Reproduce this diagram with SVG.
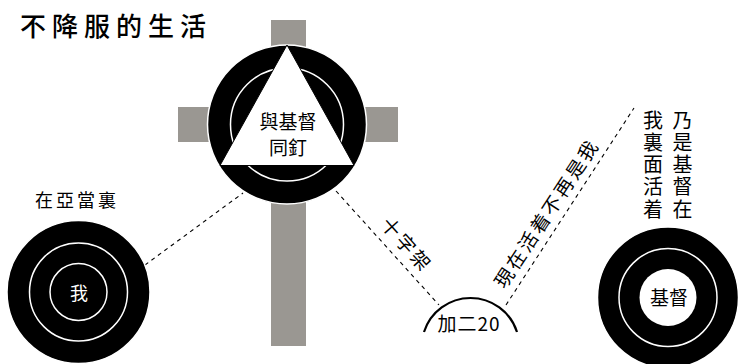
<svg xmlns="http://www.w3.org/2000/svg" width="738" height="364" viewBox="0 0 738 364">
<style>
text{font-family:"Noto Sans CJK TC","Noto Sans CJK SC",sans-serif;}
.t{font-size:19px;fill:#000;}
.w{fill:#fff;}
.outer{fill:#000;stroke:#fff;stroke-width:1.5;}
.ring{fill:none;stroke:#fff;stroke-width:1.5;}
.dash{fill:none;stroke:#000;stroke-width:1.1;stroke-dasharray:4,4;}
.v{font-size:20px;}
</style>
<rect width="738" height="364" fill="#fff"/>
<text id="title" x="20" y="36" style="font-size:26px;font-weight:500;letter-spacing:6px">不降服的生活</text>
<g id="connectors">
<line class="dash" x1="145" y1="265" x2="243" y2="193"/>
<line class="dash" x1="336" y1="191" x2="439" y2="305"/>
<line class="dash" x1="506" y1="305" x2="634" y2="108"/>
<text class="t" transform="translate(406.7,245) rotate(48.3)" text-anchor="middle" dy="7" style="letter-spacing:3px">十字架</text>
<text class="t" transform="translate(546.7,213.3) rotate(-56.7)" text-anchor="middle" dy="7" style="letter-spacing:2.7px">現在活着不再是我</text>
</g>
<g id="cross">
<rect x="271" y="20" width="35" height="326" fill="#9a9792"/>
<rect x="178" y="107" width="220" height="35" fill="#9a9792"/>
<circle class="outer" cx="287" cy="124.5" r="79.5"/>
<circle class="ring" cx="287" cy="124.5" r="56.5"/>
<polygon points="287,45 220,165.5 354,165.5" fill="#fff" stroke="#000" stroke-width="1"/>
<text class="t" x="288" y="129" text-anchor="middle">與基督</text>
<text class="t" x="288" y="155" text-anchor="middle">同釘</text>
</g>
<g id="adam">
<text class="t" x="77" y="207" text-anchor="middle" style="font-size:18px;letter-spacing:3px">在亞當裏</text>
<circle class="outer" cx="78.5" cy="292" r="71.5"/>
<circle class="ring" cx="78.5" cy="292" r="49"/>
<circle class="ring" cx="78.5" cy="292" r="28.5"/>
<text class="t w" x="79" y="300" text-anchor="middle" style="font-size:18px">我</text>
</g>
<g id="gal">
<path d="M424,332 A48.8,48.8 0 0 1 517,332" fill="none" stroke="#000" stroke-width="2.2"/>
<text class="t" x="469" y="330.5" text-anchor="middle" style="letter-spacing:1px">加二20</text>
</g>
<g id="vertical">
<text class="t v" text-anchor="middle">
<tspan x="653" y="127.5">我</tspan><tspan x="653" y="149.8">裏</tspan><tspan x="653" y="172.1">面</tspan><tspan x="653" y="194.4">活</tspan><tspan x="653" y="216.7">着</tspan>
</text>
<text class="t v" text-anchor="middle">
<tspan x="682.5" y="127.5">乃</tspan><tspan x="682.5" y="149.8">是</tspan><tspan x="682.5" y="172.1">基</tspan><tspan x="682.5" y="194.4">督</tspan><tspan x="682.5" y="216.7">在</tspan>
</text>
</g>
<g id="christ">
<circle class="outer" cx="668" cy="297.5" r="70.5"/>
<circle class="ring" cx="668" cy="297.5" r="49"/>
<circle cx="668" cy="297.5" r="28.5" fill="#fff"/>
<text class="t" x="669" y="305" text-anchor="middle">基督</text>
</g>
</svg>
